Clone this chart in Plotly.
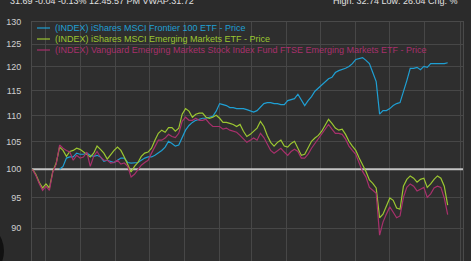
import math
import plotly.graph_objects as go
import pandas as pd

# ---- data (normalised price index) ----
start_date = "2012-08-20"
step = "3D"

frontier = [None] * 8 + [
    100.0, 100.5,
    102.0, 102.2, 102.2, 102.9, 102.7, 102.7, 102.9, 102.5, 102.3, 102.5,
    102.2, 101.4, 101.6, 101.4, 101.2, 101.6, 102.0, 102.0, 101.2, 101.1,
    101.2, 101.2, 101.6, 102.0, 102.2, 102.2, 102.5, 102.9, 103.4, 104.0,
    105.1, 104.7, 104.2, 104.4, 105.7, 107.2, 108.1, 108.7, 109.1, 109.3,
    109.5, 109.5, 109.7, 109.9, 110.9, 112.4, 112.2, 112.0, 111.6, 111.6,
    111.4, 111.4, 111.4, 111.2, 111.0, 110.7, 111.0, 111.6, 112.4, 112.6,
    112.6, 112.4, 112.4, 112.2, 112.2, 113.0, 113.2, 113.4, 114.3, 113.2,
    112.0, 113.0, 113.8, 114.9, 115.5, 116.3, 116.9, 117.5, 117.8, 118.8,
    119.2, 119.4, 119.7, 120.1, 120.7, 121.6, 121.8, 122.0, 121.4, 120.7,
    118.8, 116.9, 110.3, 111.0, 111.0, 111.4, 112.0, 112.4, 112.6, 114.7,
    117.1, 119.7, 119.7, 119.9, 119.4, 120.1, 119.9, 120.7, 120.7, 120.7,
    120.7, 120.7, 120.9]

emerging = [
    100.0, 99.1, 97.7, 96.7, 97.4, 96.7, 99.6, 101.1, 104.0, 103.4,
    102.3, 103.2, 103.4, 103.8, 103.6, 103.1, 102.7, 102.2, 102.9, 104.2,
    103.6, 102.9, 101.8, 102.7, 103.4, 104.0, 103.4, 102.2, 100.7, 99.5,
    100.5, 101.2, 102.3, 102.9, 103.1, 103.8, 105.3, 106.6, 107.2, 106.8,
    107.7, 107.7, 107.0, 107.6, 110.3, 111.4, 110.9, 109.7, 110.3, 110.5,
    110.5, 109.7, 109.5, 109.7, 110.1, 109.5, 108.7, 108.7, 108.5, 108.3,
    107.9, 108.3, 107.0, 106.0, 106.4, 107.0, 107.6, 108.9, 107.9, 106.2,
    104.9, 104.2, 104.9, 105.3, 104.2, 104.0, 104.7, 105.1, 103.8, 102.5,
    102.7, 104.0, 105.1, 105.7, 106.2, 107.0, 108.1, 109.3, 108.5, 107.6,
    107.2, 107.4, 106.4, 105.1, 104.2, 103.4, 102.0, 100.9, 99.6, 98.1,
    97.5, 96.7, 91.7, 92.3, 93.8, 95.0, 94.6, 93.3, 93.1, 97.0,
    98.2, 98.8, 98.4, 97.7, 98.2, 98.4, 96.8, 97.4, 98.2, 98.8,
    98.4, 97.0, 93.8]

vanguard = [
    100.0, 98.9, 97.5, 96.3, 97.0, 96.3, 99.5, 100.9, 104.4, 103.8,
    103.4, 103.1, 101.6, 102.5, 102.0, 102.2, 103.1, 100.5, 102.3, 103.2,
    102.2, 101.6, 101.6, 101.1, 101.2, 101.6, 100.9, 101.1, 100.5, 98.6,
    99.1, 99.8, 100.7, 101.2, 101.6, 102.9, 104.0, 105.3, 105.3, 105.7,
    106.4, 106.0, 105.8, 106.6, 108.9, 109.7, 109.1, 109.1, 109.5, 109.1,
    109.1, 109.3, 108.5, 107.9, 107.9, 107.9, 107.4, 107.6, 107.2, 107.0,
    106.8, 106.2, 105.5, 104.9, 105.3, 105.7, 105.3, 106.6, 105.8, 104.5,
    103.4, 102.9, 103.4, 103.8, 103.1, 102.5, 103.2, 103.6, 103.2, 102.0,
    102.0, 102.7, 103.8, 104.7, 105.7, 106.4, 107.4, 108.3, 107.4, 106.6,
    106.6, 106.4, 105.5, 104.2, 103.4, 102.7, 101.1, 99.6, 98.6, 96.8,
    96.3, 95.8, 88.9, 91.0, 92.3, 93.5, 92.6, 91.7, 92.0, 95.1,
    96.8, 97.4, 97.0, 96.2, 96.5, 96.8, 95.1, 95.7, 96.7, 97.0,
    96.8, 95.0, 92.2]

series_names = [
    "(INDEX) iShares MSCI Frontier 100 ETF - Price",
    "(INDEX) iShares MSCI Emerging Markets ETF - Price",
    "(INDEX) Vanguard Emerging Markets Stock Index Fund FTSE Emerging Markets ETF - Price",
]
series_colors = ["#1f9fd3", "#9cc731", "#a8306c"]
y_ticks = [85, 90, 95, 100, 105, 110, 115, 120, 125, 130]
y_range = [84.9, 130]
x_range = ["2012-08-19 16:00", "2013-09-03 12:00"]
header_left = "31.69 -0.04 -0.13% 12:45:57 PM VWAP:31.72"
header_right = "High: 32.74 Low: 26.04 Chg: %"
baseline = 100

dates = pd.date_range(start_date, periods=len(vanguard), freq=step)

FONT = "Arial, Liberation Sans, sans-serif"
W, H = 471, 261
ML, MR, MT, MB = 32, 8, 22, 0
PW, PH = W - ML - MR, H - MT - MB


def px_x(p):
    return (p - ML) / PW


def px_y(p):
    return (H - MB - p) / PH


fig = go.Figure()

# bright baseline at 100, drawn first so the series run over it
fig.add_trace(go.Scatter(x=x_range, y=[baseline, baseline], mode="lines",
                         line=dict(color="#c4c4c4", width=2), showlegend=False))

for name, vals, col in zip(series_names, [frontier, emerging, vanguard], series_colors):
    fig.add_trace(go.Scatter(x=dates, y=vals, mode="lines", name=name,
                             line=dict(color=col, width=1.2), connectgaps=False,
                             showlegend=False))

# legend drawn as annotations + short line samples
rows_y = [28, 39, 50]
for name, col, ry in zip(series_names, series_colors, rows_y):
    fig.add_shape(type="line", xref="paper", yref="paper",
                  x0=px_x(37), x1=px_x(50), y0=px_y(ry), y1=px_y(ry),
                  line=dict(color=col, width=1.2))
    fig.add_annotation(xref="paper", yref="paper", x=px_x(53), y=px_y(ry),
                       xanchor="left", yanchor="middle", showarrow=False,
                       text=name, font=dict(family=FONT, size=9, color=col))

# header
fig.add_annotation(xref="paper", yref="paper", x=px_x(8), y=px_y(1),
                   xanchor="left", yanchor="middle", showarrow=False,
                   text=header_left, font=dict(family=FONT, size=9, color="#e0e0e0"))
fig.add_annotation(xref="paper", yref="paper", x=px_x(460), y=px_y(1),
                   xanchor="right", yanchor="middle", showarrow=False,
                   text=header_right, font=dict(family=FONT, size=9, color="#e0e0e0"))

# dark round UI button partially visible at bottom-left
fig.add_shape(type="circle", xref="paper", yref="paper",
              x0=px_x(-55), x1=px_x(4), y0=px_y(281), y1=px_y(221),
              fillcolor="#111111", line=dict(width=0), layer="above")

fig.update_layout(
    width=W, height=H,
    margin=dict(l=ML, r=MR, t=MT, b=MB, pad=0),
    paper_bgcolor="#2b2b2b",
    plot_bgcolor="#2e2e2e",
    font=dict(family=FONT, size=9, color="#cfcfcf"),
    showlegend=False,
    hovermode=False,
)
fig.update_xaxes(type="date", range=x_range, dtick="M1", tick0="2012-09-01",
                 showgrid=True, gridcolor="#474747", gridwidth=1,
                 showticklabels=False, ticks="", zeroline=False,
                 showline=True, mirror=True, linecolor="#4a4a4a", linewidth=1)
fig.update_yaxes(type="log", range=[math.log10(y_range[0]), math.log10(y_range[1])],
                 tickvals=y_ticks, ticktext=[str(v) for v in y_ticks],
                 showgrid=True, gridcolor="#474747", gridwidth=1,
                 ticks="", ticklabelstandoff=8, zeroline=False,
                 tickfont=dict(family=FONT, size=9, color="#cfcfcf"),
                 showline=True, mirror=True, linecolor="#4a4a4a", linewidth=1)

fig.write_html("out.html")
